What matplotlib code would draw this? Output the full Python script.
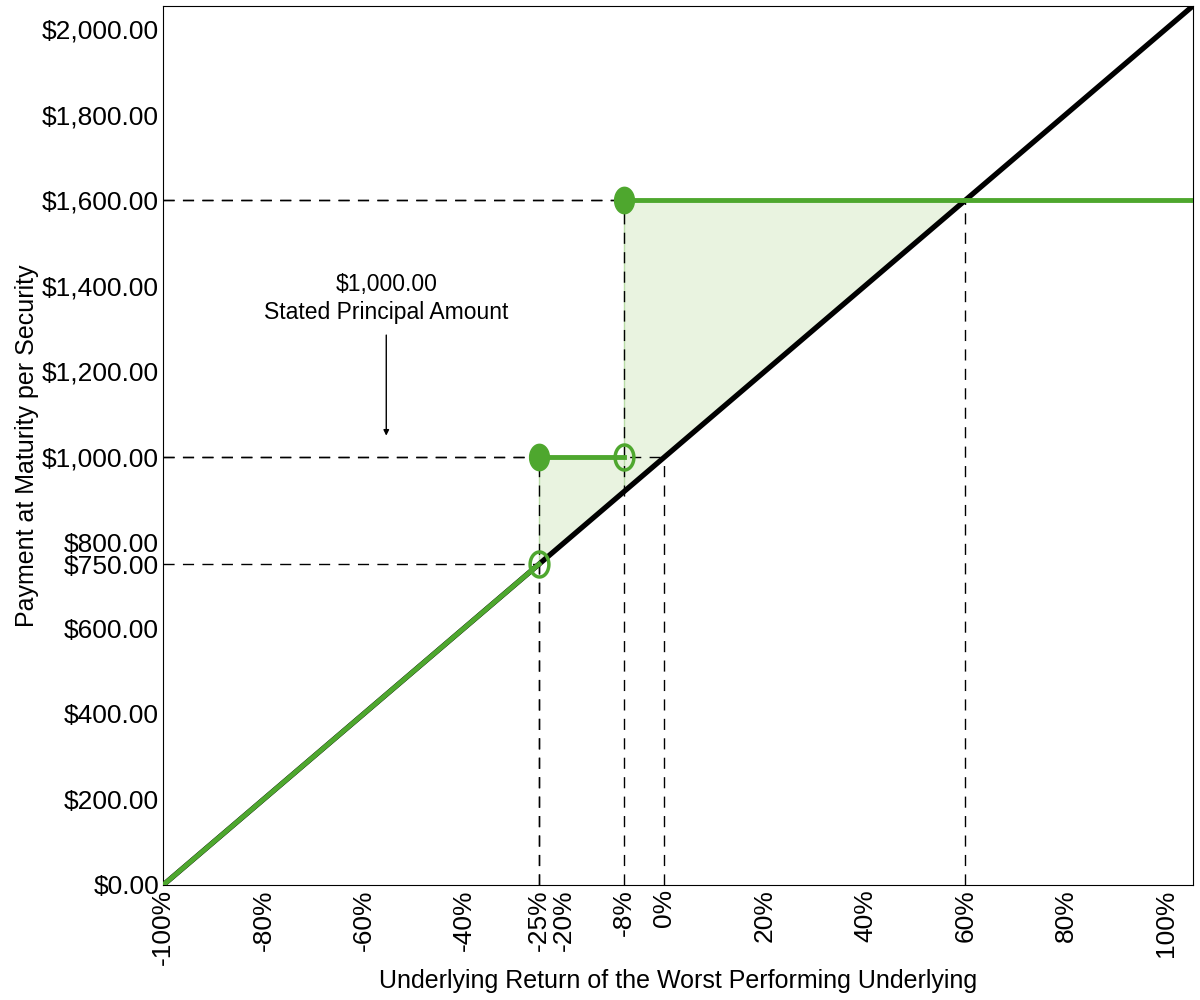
import numpy as np
import matplotlib.pyplot as plt
from matplotlib.path import Path

plt.rcParams['font.family'] = ['Liberation Sans', 'DejaVu Sans']

# payoff data
underlying_x = [-100, 105.4]
underlying_y = [0, 2054]
buffer_x = [-100, -25]
buffer_y = [0, 750]
digital_x = [-25, -8]
digital_y = [1000, 1000]
cap_x = [-8, 105.4]
cap_y = [1600, 1600]
filled_pts = [(-25, 1000), (-8, 1600)]
open_pts = [(-25, 750), (-8, 1000)]

xticks = [-100, -80, -60, -40, -25, -20, -8, 0, 20, 40, 60, 80, 100]
yticks = [0, 200, 400, 600, 750, 800, 1000, 1200, 1400, 1600, 1800, 2000]

# dashed reference lines: (x, y)
ref_pts = [(-25, 750), (-8, 1600), (0, 1000), (60, 1600), (-25, 1000)]

green = '#4ea72e'
fillc = '#e9f3e0'

# slightly tall ellipse marker
t = np.linspace(0, 2 * np.pi, 60)
ellipse = Path(np.column_stack([0.75 * np.cos(t), np.sin(t)]), closed=True)

fig = plt.figure(figsize=(12, 10), dpi=100)
ax = fig.add_axes([0.136, 0.115, 0.858, 0.879])
ax.set_xlim(-100, 105.4)
ax.set_ylim(0, 2054)

# shaded region between payoff and underlying
ax.fill_between([-25, -8], [750, 920], [1000, 1000], color=fillc, lw=0, zorder=1)
ax.fill_between([-8, 60], [920, 1600], [1600, 1600], color=fillc, lw=0, zorder=1)
ax.plot([-25, -25], [750, 1000], color='#b9dca8', lw=1, zorder=2)
ax.plot([-8, -8], [920, 1600], color='#b9dca8', lw=1, zorder=2)

for x, y in ref_pts:
    ax.plot([-100, x], [y, y], color='black', lw=1, ls=(0, (8, 6)), zorder=2)
    ax.plot([x, x], [0, y], color='black', lw=1, ls=(0, (8, 6)), zorder=2)

ax.plot(underlying_x, underlying_y, color='black', lw=3.8, zorder=3)
ax.plot(buffer_x, buffer_y, color=green, lw=3.5, zorder=4)
ax.plot(digital_x, digital_y, color=green, lw=3.5, zorder=4)
ax.plot(cap_x, cap_y, color=green, lw=3.5, zorder=4)

for x, y in filled_pts:
    ax.plot(x, y, marker=ellipse, ms=19, color=green, zorder=5)
for x, y in open_pts:
    ax.plot(x, y, marker=ellipse, ms=18, mfc='none', mec=green, mew=2.5, zorder=5)

ax.annotate('$1,000.00\nStated Principal Amount', xy=(-55.5, 1050), xytext=(-55.5, 1370),
            ha='center', va='center', fontsize=16.5, linespacing=1.25,
            arrowprops=dict(arrowstyle='-|>', color='black', lw=1, mutation_scale=8,
                            shrinkA=6, shrinkB=0))

ax.set_xticks(xticks)
ax.set_xticklabels([f'{v}%' for v in xticks], rotation=90, fontsize=19)
ax.set_yticks(yticks)
ax.set_yticklabels([f'${v:,.2f}' for v in yticks], fontsize=19)
ax.tick_params(length=0, pad=3)
ax.set_xlabel('Underlying Return of the Worst Performing Underlying', fontsize=18, labelpad=3)
ax.set_ylabel('Payment at Maturity per Security', fontsize=18, labelpad=2)
for s in ax.spines.values():
    s.set_linewidth(0.8)

fig.savefig('out.png', dpi=100)
